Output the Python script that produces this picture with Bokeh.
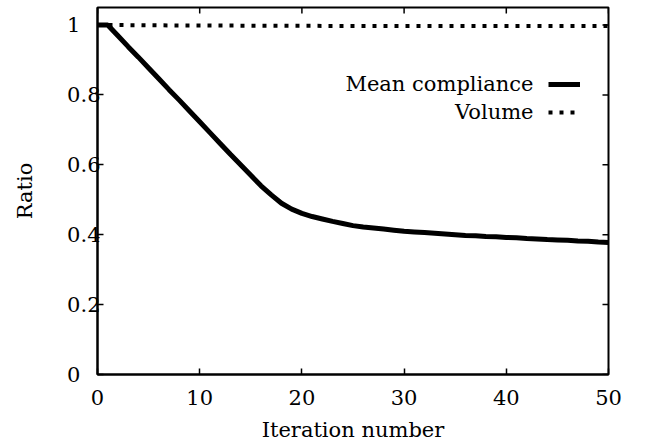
import math
from bokeh.plotting import figure
from bokeh.models import Range1d, FixedTicker, Legend, LegendItem, Label
from bokeh.embed import file_html
from bokeh.resources import INLINE

# ---- data ----
iterations = list(range(51))
mean_compliance = [1.000, 1.000, 0.969, 0.938, 0.908, 0.877, 0.846, 0.815, 0.785, 0.754,
                   0.723, 0.692, 0.661, 0.630, 0.600, 0.570, 0.540, 0.514, 0.490, 0.473,
                   0.461, 0.452, 0.445, 0.438, 0.432, 0.426, 0.422, 0.419, 0.416, 0.413,
                   0.410, 0.408, 0.406, 0.404, 0.402, 0.400, 0.398, 0.397, 0.395, 0.394,
                   0.392, 0.391, 0.389, 0.388, 0.386, 0.385, 0.384, 0.382, 0.381, 0.379,
                   0.378]
volume = [1.000, 1.000, 0.9998, 0.9996, 0.9994, 0.9992, 0.9990, 0.9988, 0.9987, 0.9986,
          0.9985, 0.9984, 0.9983, 0.9982, 0.9981, 0.9980, 0.9979, 0.9978, 0.9977, 0.9976,
          0.9975, 0.9975, 0.9974, 0.9974, 0.9973, 0.9973, 0.9972, 0.9972, 0.9971, 0.9971,
          0.9970, 0.9970, 0.9970, 0.9970, 0.9970, 0.9970, 0.9970, 0.9970, 0.9970, 0.9970,
          0.9970, 0.9970, 0.9970, 0.9970, 0.9970, 0.9970, 0.9970, 0.9970, 0.9970, 0.9970,
          0.9970]
series_names = ["Mean compliance", "Volume"]
x_ticks = [0, 10, 20, 30, 40, 50]
y_ticks = [0, 0.2, 0.4, 0.6, 0.8, 1.0]
y_tick_labels = ["0", "0.2", "0.4", "0.6", "0.8", "1"]
x_title = "Iteration number"
y_title = "Ratio"
x_min, x_max = 0, 50
y_min, y_max = 0, 1.05

FONT = "DejaVu Serif"
FS = "21px"

p = figure(width=640, height=444, output_backend="svg", toolbar_location=None,
           x_range=Range1d(x_min, x_max), y_range=Range1d(y_min, y_max),
           min_border_left=97, min_border_right=32, min_border_top=7, min_border_bottom=69)
p.xgrid.visible = False
p.ygrid.visible = False
p.outline_line_color = "black"
p.outline_line_width = 2
p.background_fill_color = "white"
p.border_fill_color = "white"

r1 = p.line(iterations, mean_compliance, line_width=5, line_color="black")
r2 = p.line(iterations, volume, line_width=4, line_color="black", line_dash="4 7", line_cap="butt")

# mirrored inward ticks on top and right edges
p.ray(x=x_ticks, y=[y_max] * len(x_ticks), length=6, length_units="screen",
      angle=-math.pi / 2, line_color="black", line_width=1.5)
p.ray(x=[x_max] * len(y_ticks), y=y_ticks, length=6, length_units="screen",
      angle=math.pi, line_color="black", line_width=1.5)

xa = p.xaxis[0]
ya = p.yaxis[0]
xa.ticker = FixedTicker(ticks=x_ticks)
ya.ticker = FixedTicker(ticks=y_ticks)
# pad short labels with figure/punctuation spaces so that they read left-aligned like the original
def pad(s):
    return s if "." in s else s + "\u2008\u2007"
ya.major_label_overrides = {t: pad(s) for t, s in zip(y_ticks, y_tick_labels)}
xa.axis_label = x_title
ya.axis_label = y_title

for ax in (xa, ya):
    ax.major_tick_in = 6
    ax.major_tick_out = 0
    ax.major_tick_line_width = 1.5
    ax.major_tick_line_color = "black"
    ax.minor_tick_line_color = None
    ax.axis_line_width = 2
    ax.axis_line_color = "black"
    ax.major_label_text_font = FONT
    ax.major_label_text_font_size = FS
    ax.major_label_text_color = "black"
    ax.axis_label_text_font = FONT
    ax.axis_label_text_font_size = FS
    ax.axis_label_text_font_style = "normal"
    ax.axis_label_text_color = "black"

xa.major_label_standoff = 15
xa.axis_label_standoff = 10
ya.major_label_standoff = -3
ya.axis_label_standoff = 27

legend = Legend(items=[LegendItem(label=" ", renderers=[r1]),
                       LegendItem(label=" ", renderers=[r2])],
                location=(451, 252), orientation="vertical",
                glyph_width=32, glyph_height=20, spacing=8, padding=0, margin=0,
                label_standoff=0, label_width=0, label_height=0,
                label_text_font_size="1px", border_line_color=None,
                background_fill_alpha=0)
p.add_layout(legend)

for name, yy in zip(series_names, [291, 263]):
    p.add_layout(Label(x=436, y=yy, x_units="screen", y_units="screen", text=name,
                       text_align="right", text_baseline="alphabetic",
                       text_font=FONT, text_font_size=FS, text_color="black"))

open("out.html", "w").write(file_html(p, INLINE))
